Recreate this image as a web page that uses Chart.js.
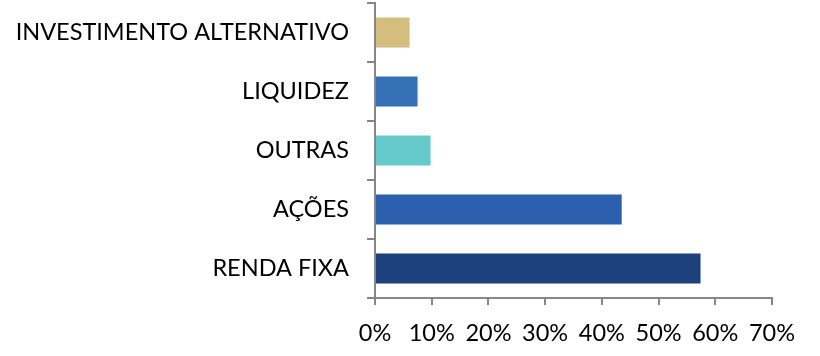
<!DOCTYPE html>
<html><head><meta charset="utf-8">
<script src="https://cdn.jsdelivr.net/npm/chart.js@4/dist/chart.umd.min.js"></script>
<style>html,body{margin:0;padding:0;background:#fff}#wrap{width:820px;height:356px}</style>
</head><body><div id="wrap"><canvas id="c" width="820" height="356"></canvas></div>
<script>
const categories = ["INVESTIMENTO ALTERNATIVO", "LIQUIDEZ", "OUTRAS", "AÇÕES", "RENDA FIXA"];
const values = [6.1, 7.5, 9.8, 43.5, 57.4];
const barColors = ["#D4BE7E", "#3670B4", "#66CACA", "#2C60AE", "#1C417C"];
const xTicks = [0, 10, 20, 30, 40, 50, 60, 70];

const FONT = "Lato, 'Open Sans', sans-serif";
new Chart(document.getElementById('c'), {
  type: 'bar',
  data: { labels: categories, datasets: [{ data: values, backgroundColor: barColors, categoryPercentage: 1, barPercentage: 0.51 }] },
  options: {
    indexAxis: 'y', responsive: false, animation: false,
    layout: { padding: { top: 3, right: 48, left: 0, bottom: 0 } },
    plugins: { legend: { display: false }, tooltip: { enabled: false } },
    scales: {
      x: {
        min: 0, max: 70,
        afterBuildTicks: s => { s.ticks = xTicks.map(v => ({ value: v })); },
        afterFit: s => { s.height = 58; s.paddingLeft = 0; s.paddingRight = 0; },
        grid: { drawOnChartArea: false, tickLength: 7, color: '#868686', lineWidth: 2 },
        border: { color: '#868686', width: 2 },
        ticks: { color: '#000', font: { family: FONT, size: 23.5 }, padding: 14, callback: v => v + '%' }
      },
      y: {
        afterFit: s => { s.width = 375; s.paddingTop = 0; s.paddingBottom = 0; },
        grid: { drawOnChartArea: false, tickLength: 8, color: '#868686', lineWidth: 2, offset: true },
        border: { color: '#868686', width: 2 },
        ticks: { color: '#000', font: { family: FONT, size: 23.5 }, padding: 18 }
      }
    }
  }
});
</script></body></html>
